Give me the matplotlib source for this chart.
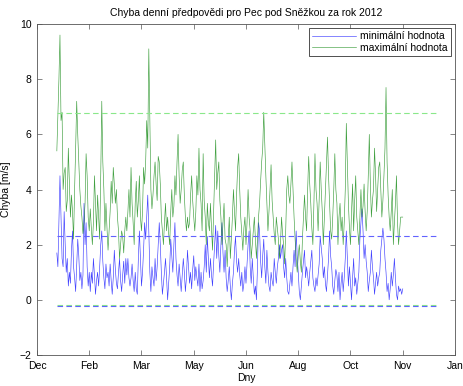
import datetime as dt

import matplotlib
matplotlib.use('Agg')
import matplotlib.pyplot as plt
import matplotlib.dates as mdates
import numpy as np

plt.rcParams['font.family'] = ['Liberation Sans', 'DejaVu Sans']

# daily error of the forecast, starting 1 Jan 2012
first_day = dt.date(2012, 1, 1)

max_error = [
    5.4, 6.7, 8.0, 9.6, 6.5, 6.8, 4.0, 4.6, 4.8, 3.2,
    3.6, 5.5, 4.3, 3.0, 3.8, 3.2, 2.2, 4.0, 5.5, 7.2,
    6.0, 5.0, 4.0, 3.4, 3.0, 2.4, 2.8, 3.5, 5.3, 4.5,
    3.0, 2.5, 3.3, 2.6, 2.0, 2.8, 4.5, 3.5, 2.5, 3.8,
    3.0, 2.2, 4.5, 7.2, 5.0, 4.0, 2.5, 3.5, 2.6, 1.8,
    2.5, 3.2, 4.3, 3.5, 4.8, 4.2, 3.5, 4.0, 3.0, 2.5,
    1.5, 2.0, 2.5, 2.3, 1.7, 2.5, 3.0,
    2.5, 3.2, 4.0, 3.0, 4.8, 3.5, 2.8, 2.0, 3.5, 4.3,
    3.0, 3.6, 4.5, 3.0, 2.5, 3.2, 4.8, 4.2, 5.0, 6.5,
    5.5, 9.1, 6.5, 4.0, 3.3, 3.8, 4.5, 5.0, 4.2, 3.6,
    5.2, 5.0, 4.2, 3.0, 2.5, 2.0, 2.8, 3.5, 2.5, 3.0,
    2.4, 2.0, 3.2, 4.0, 3.0, 3.4, 4.5, 3.8, 5.0, 6.0,
    4.5, 3.5, 4.0, 4.7, 5.0, 3.8, 3.0, 2.5, 3.0, 2.6,
    2.8, 3.8, 4.5, 3.6, 3.0, 2.5, 3.2,
    4.5, 3.8, 5.5, 4.0, 3.5, 2.5, 5.3, 3.6, 3.0, 2.0,
    3.5, 2.8, 2.5, 3.5, 2.6, 1.8, 3.2, 4.5, 5.8, 4.0,
    4.6, 5.0, 3.6, 3.0, 2.0, 2.8, 3.5, 2.2, 2.0, 1.2,
    2.2, 3.0, 1.5, 2.2, 3.0, 4.0, 3.2, 2.5, 3.8, 4.8,
    5.3, 4.0, 3.0, 2.4, 1.8, 2.6, 3.0, 2.0, 2.8, 4.0,
    3.0, 2.5, 1.5, 2.0, 2.5, 3.0, 2.2, 1.5, 2.2, 3.0,
    3.5, 4.3, 5.0, 5.5, 6.8, 5.6, 4.5,
    3.5, 2.5, 3.2, 4.0, 4.9, 3.6, 3.0, 2.4, 2.0, 3.0,
    2.6, 2.2, 1.5, 2.0, 3.0, 2.4, 2.0, 1.3, 2.5, 4.0,
    4.5, 3.8, 3.5, 4.2, 5.0, 4.0, 3.0, 2.2, 1.5, 1.0,
    1.6, 2.0, 1.4, 1.0, 2.2, 3.0, 3.8, 3.0, 2.5, 4.0,
    5.2, 4.2, 3.5, 2.6, 2.0, 3.5, 5.3, 4.0, 3.5, 2.5,
    3.6, 5.0, 4.0, 3.2, 2.0, 3.0, 4.0, 5.0, 5.9, 4.5,
    3.5, 2.5, 2.2, 3.0, 4.0, 5.3, 4.0,
    3.5, 2.0, 3.0, 3.5, 2.5, 3.0, 2.0, 2.8, 4.0, 6.4,
    5.0, 3.5, 2.6, 2.0, 3.2, 4.2, 2.5, 3.6, 4.5, 3.0,
    2.5, 2.0, 3.0, 4.0, 3.0, 3.4, 4.2, 3.2, 2.5, 3.2,
    4.5, 6.0, 4.2, 3.0, 3.6, 4.0, 5.5, 4.5, 3.2, 4.0,
    4.8, 5.0, 4.0, 3.0, 3.6, 4.5, 5.5, 7.7, 5.0, 3.8,
    3.0, 2.5, 3.2, 4.0, 2.0, 2.8, 3.5, 4.5, 2.8, 2.0,
    2.5, 3.0, 3.0, 3.0,
]

min_error = [
    1.7, 1.2, 2.8, 4.5, 3.0, 1.5, 1.2, 3.2, 2.0, 1.0,
    1.5, 0.5, 1.0, 0.6, 1.8, 2.5, 1.2, 0.8, 0.3, 1.3,
    2.2, 1.6, 0.7, 1.0, 0.4, 0.9, 3.5, 2.0, 2.8, 1.2,
    0.5, 1.0, 0.3, 1.0, 0.6, 1.5, 0.9, 0.2, 0.7, 1.0,
    0.5, 1.2, 2.0, 2.5, 1.4, 0.8, 0.4, 1.3, 0.8, 1.0,
    0.5, 1.3, 0.7, 0.2, 0.8, 1.8, 1.1, 0.6, 0.4, 1.0,
    1.5, 0.7, 0.3, 0.9, 1.4, 0.6, 1.5,
    0.9, 1.5, 0.8, 0.5, 0.8, 1.3, 0.7, 0.3, 1.0, 0.4,
    0.2, 1.5, 2.5, 1.5, 0.5, 1.0, 1.8, 2.8, 2.2, 3.0,
    3.8, 2.5, 1.0, 0.3, 1.2, 0.8, 0.5, 1.5, 0.7, 1.2,
    2.0, 2.8, 2.0, 1.0, 0.2, 0.6, 1.0, 1.5, 0.8, 0.0,
    0.6, 1.2, 2.2, 1.6, 1.0, 2.0, 2.8, 1.5, 0.9, 0.5,
    1.3, 0.8, 0.3, 0.9, 1.5, 1.0, 0.3, 0.8, 1.8, 1.2,
    0.6, 1.0, 0.4, 1.1, 1.6, 0.7, 1.2,
    0.8, 0.5, 1.3, 0.3, 1.0, 0.4, 0.7, 1.2, 2.0, 1.0,
    2.3, 1.5, 0.8, 1.5, 0.9, 0.5, 1.3, 2.0, 2.7, 1.5,
    2.5, 1.6, 1.0, 2.0, 2.8, 1.7, 1.0, 1.8, 0.8, 0.3,
    0.7, 1.2, 0.5, 0.0, 0.6, 1.0, 1.8, 2.3, 1.4, 1.0,
    1.5, 0.9, 0.5, 1.0, 0.3, 0.6, 1.2, 0.6, 1.3, 2.0,
    2.5, 1.2, 0.6, 1.5, 0.8, 0.2, 0.5, 0.0, 1.2, 2.8,
    2.5, 1.4, 0.8, 1.6, 2.2, 1.2, 0.6,
    1.8, 1.0, 0.5, 0.3, 1.0, 0.7, 0.5, 1.5, 1.0, 0.6,
    1.2, 1.5, 2.0, 1.5, 1.8, 2.0, 1.2, 0.8, 1.5, 0.8,
    0.3, 0.2, 0.6, 1.0, 0.5, 1.2, 1.8, 1.2, 2.5, 1.6,
    1.0, 0.3, 0.0, 0.5, 1.0, 1.4, 1.8, 0.8, 1.2, 0.9,
    0.5, 1.0, 1.4, 1.8, 0.8, 0.5, 0.3, 0.8, 0.5, 0.9,
    1.3, 2.3, 1.9, 1.5, 0.8, 1.2, 0.6, 0.3, 0.9, 1.5,
    2.5, 1.6, 1.2, 0.5, 0.2, 0.7, 1.1,
    0.9, 0.3, 1.0, 0.0, 0.6, 1.0, 0.3, 0.8, 1.5, 2.5,
    1.5, 0.5, 1.2, 0.6, 0.0, 0.8, 1.5, 0.5, 0.8, 0.2,
    0.6, 1.0, 2.2, 2.8, 3.3, 2.5, 1.5, 2.0, 1.4, 1.0,
    0.3, 0.7, 1.0, 1.8, 1.2, 0.8, 0.2, 0.6, 1.0, 0.5,
    0.8, 1.0, 1.8, 2.2, 2.6, 2.2, 1.5, 1.0, 0.3, 0.6,
    0.0, 0.4, 1.0, 0.5, 0.9, 1.5, 0.8, 0.2, 0.0, 0.5,
    0.3, 0.4, 0.2, 0.4,
]

# reference levels over the whole year
max_levels = [6.78, -0.17]
min_levels = [2.33, -0.21]
level_span = [dt.date(2012, 1, 1), dt.date(2012, 12, 31)]

# date ticks every 50 days
tick_start = dt.date(2011, 12, 13)
tick_step = 50
tick_count = 9


def day_range(values):
    return [first_day + dt.timedelta(days=i) for i in range(len(values))]


def main():
    fig = plt.figure(figsize=(4.64, 3.86), dpi=100)
    ax = fig.add_axes([0.0797, 0.0803, 0.9009, 0.8575])

    h_min, = ax.plot(day_range(min_error), min_error, color='#0000ff', lw=0.45,
                     alpha=0.75, label=u'minimální hodnota')
    h_max, = ax.plot(day_range(max_error), max_error, color='#008000', lw=0.45,
                     alpha=0.75, label=u'maximální hodnota')

    for level in max_levels:
        ax.plot(level_span, [level, level], '--', color='#8ae88a', lw=0.8, dashes=(5, 3))
    for level in min_levels:
        ax.plot(level_span, [level, level], '--', color='#6262ff', lw=0.8, dashes=(5, 3))

    ticks = [tick_start + dt.timedelta(days=tick_step * k) for k in range(tick_count)]
    ax.set_xticks(ticks)
    ax.xaxis.set_major_formatter(mdates.DateFormatter('%b'))
    ax.set_xlim(ticks[0], ticks[-1])
    ax.set_ylim(-2, 10)
    ax.set_yticks(np.arange(-2, 11, 2))

    ax.tick_params(direction='in', top=True, right=True, length=3.5, width=0.5,
                   labelsize=7.5, color='#555555', pad=4)
    for spine in ax.spines.values():
        spine.set_linewidth(0.6)
        spine.set_color('#555555')

    ax.set_title(u'Chyba denní předpovědi pro Pec pod Sněžkou za rok 2012', fontsize=7.5, pad=6)
    ax.set_xlabel('Dny', fontsize=7.5, labelpad=2)
    ax.set_ylabel('Chyba [m/s]', fontsize=7.5, labelpad=6)

    leg = ax.legend(handles=[h_min, h_max], loc='upper right', fontsize=7.5,
                    fancybox=False, framealpha=1, borderpad=0.3, labelspacing=0.15,
                    handlelength=4.2, handletextpad=0.4, borderaxespad=0.4)
    leg.get_frame().set_edgecolor('#333333')
    leg.get_frame().set_linewidth(0.6)

    fig.savefig('out.png', dpi=100)
    plt.close(fig)


if __name__ == '__main__':
    main()
